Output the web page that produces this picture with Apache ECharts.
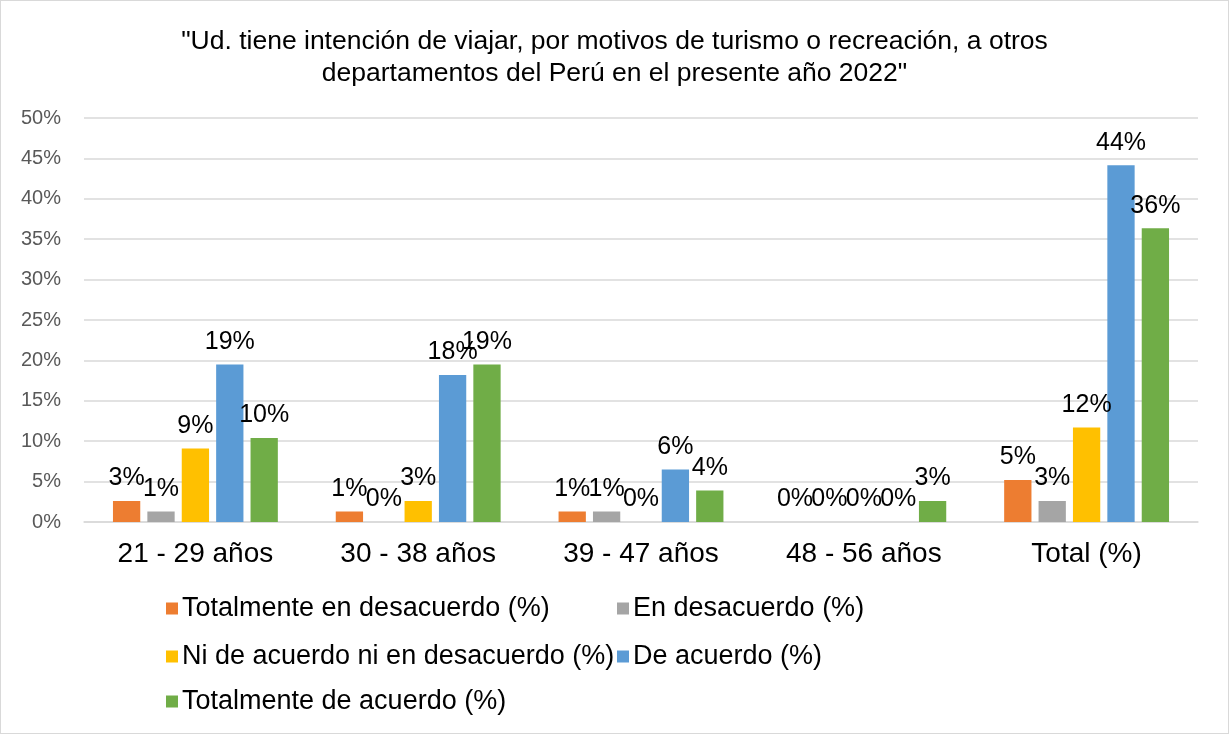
<!DOCTYPE html>
<html>
<head>
<meta charset="utf-8">
<script src="https://cdn.jsdelivr.net/npm/echarts@6/dist/echarts.min.js"></script>
<style>
  html, body { margin: 0; padding: 0; background: #fff; }
  #chart { width: 1227px; height: 732px; border: 1px solid #d9d9d9; }
</style>
</head>
<body>
<div id="chart"></div>
<script>
// categorias (grupos de edad)
const categorias = ["21 - 29 años", "30 - 38 años", "39 - 47 años", "48 - 56 años", "Total (%)"];
const nombres = [
  "Totalmente en desacuerdo (%)",
  "En desacuerdo (%)",
  "Ni de acuerdo ni en desacuerdo (%)",
  "De acuerdo (%)",
  "Totalmente de acuerdo (%)"
];
// valores en %
const totDesacuerdo = [2.6, 1.3, 1.3, 0, 5.19];
const enDesacuerdo = [1.3, 0, 1.3, 0, 2.6];
const niNi = [9.09, 2.6, 0, 0, 11.69];
const deAcuerdo = [19.48, 18.18, 6.49, 0, 44.16];
const totAcuerdo = [10.39, 19.48, 3.9, 2.6, 36.36];
const yTicks = [0, 5, 10, 15, 20, 25, 30, 35, 40, 45, 50];

const colores = ["#ED7D31", "#A5A5A5", "#FFC000", "#5B9BD5", "#70AD47"];
const valores = [totDesacuerdo, enDesacuerdo, niNi, deAcuerdo, totAcuerdo];

let myChart = echarts.init(document.getElementById("chart"));
const fuente = "Liberation Sans, Arial, sans-serif";

// posiciones de la leyenda (dos columnas, como en Excel)
const legPos = [[165, 594], [616, 594], [165, 642], [616, 642], [165, 687]];
let legends = nombres.map((n, i) => ({
  data: [n],
  left: legPos[i][0],
  top: legPos[i][1],
  icon: "rect",
  itemWidth: 12,
  itemHeight: 12,
  itemGap: 0,
  padding: 0,
  selectedMode: false,
  textStyle: { fontSize: 27, color: "#000", fontFamily: fuente, padding: [0, 0, 0, -1] }
}));

let series = nombres.map((n, i) => ({
  name: n,
  type: "bar",
  data: valores[i],
  barGap: "26%",
  barCategoryGap: "26%",
  itemStyle: { color: colores[i] },
  label: {
    show: true,
    position: "top",
    distance: 10,
    fontSize: 25,
    color: "#000",
    fontFamily: fuente,
    formatter: p => Math.round(p.value) + "%"
  }
}));

let option = {
  animation: false,
  textStyle: { fontFamily: fuente },
  title: {
    text: "\"Ud. tiene intención de viajar, por motivos de turismo o recreación, a otros\ndepartamentos del Perú en el presente año 2022\"",
    left: "center",
    top: 20,
    textStyle: { fontSize: 26.5, fontWeight: "normal", color: "#000", lineHeight: 32, fontFamily: fuente }
  },
  legend: legends,
  grid: { left: 83, right: 30, top: 117, bottom: 211, containLabel: false },
  xAxis: {
    type: "category",
    data: categorias,
    axisTick: { show: false },
    axisLine: { lineStyle: { color: "#d9d9d9", width: 1.5 } },
    axisLabel: { fontSize: 28, color: "#000", margin: 18, fontFamily: fuente }
  },
  yAxis: {
    type: "value",
    min: yTicks[0],
    max: yTicks[yTicks.length - 1],
    interval: 5,
    axisLine: { show: false },
    axisTick: { show: false },
    splitLine: { lineStyle: { color: "#d9d9d9", width: 1.5 } },
    axisLabel: { fontSize: 20, color: "#595959", margin: 23, formatter: "{value}%", fontFamily: fuente }
  },
  series: series
};

myChart.setOption(option);
window.addEventListener("resize", function () {
  myChart.resize();
});
</script>
</body>
</html>
